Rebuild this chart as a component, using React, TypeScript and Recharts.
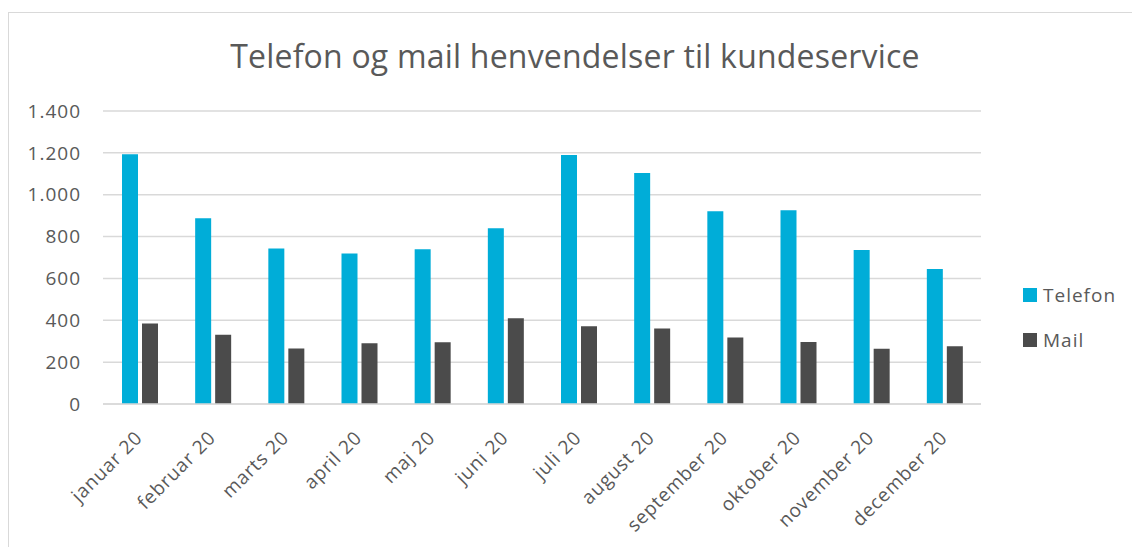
import React from 'react'
import { BarChart, Bar, XAxis, YAxis, CartesianGrid } from 'recharts'

const months = [
  'januar 20', 'februar 20', 'marts 20', 'april 20', 'maj 20', 'juni 20',
  'juli 20', 'august 20', 'september 20', 'oktober 20', 'november 20', 'december 20',
]
const telefon = [1193, 887, 743, 719, 740, 840, 1190, 1104, 921, 926, 736, 645]
const mail = [385, 331, 265, 290, 295, 410, 372, 361, 318, 296, 264, 276]
const yTicks = [0, 200, 400, 600, 800, 1000, 1200, 1400]

const TELEFON_COLOR = '#00ADD8'
const MAIL_COLOR = '#4B4B4B'
const TEXT_COLOR = '#595959'
const FONT = '"Open Sans", sans-serif'

const data = months.map((m, i) => ({ month: m, Telefon: telefon[i], Mail: mail[i] }))

const formatTick = (v: number) => v.toLocaleString('da-DK')

const MonthTick = (props: any) => {
  const { x, y, payload } = props
  return (
    <text
      x={x + 4}
      y={y + 27}
      transform={`rotate(-45, ${x + 4}, ${y + 27})`}
      textAnchor="end"
      fill={TEXT_COLOR}
      fontSize={19}
      letterSpacing={0.8}
      fontFamily={FONT}
    >
      {payload.value}
    </text>
  )
}

const App: React.FC = () => {
  return (
    <div style={{ position: 'absolute', left: 0, top: 0, width: 1132, height: 547, background: '#fff', overflow: 'hidden', fontFamily: FONT }}>
      <div style={{ position: 'absolute', left: 8, top: 12, width: 1200, height: 600, borderLeft: '1px solid #d9d9d9', borderTop: '1px solid #d9d9d9' }} />
      <div style={{ position: 'absolute', left: 0, width: 1150, top: 35, textAlign: 'center', fontSize: 32, letterSpacing: 0.2, color: TEXT_COLOR, lineHeight: '42px' }}>
        Telefon og mail henvendelser til kundeservice
      </div>
      <div style={{ position: 'absolute', left: 0, top: 0 }}>
        <BarChart
          width={1132}
          height={547}
          data={data}
          margin={{ top: 111, right: 151, left: 0, bottom: 43 }}
          barSize={16}
          barGap={4}
        >
          <CartesianGrid vertical={false} stroke="#d9d9d9" strokeWidth={1.5} />
          <XAxis
            dataKey="month"
            height={100}
            interval={0}
            tickLine={false}
            axisLine={{ stroke: '#d9d9d9', strokeWidth: 1.5 }}
            tick={<MonthTick />}
          />
          <YAxis
            width={103}
            domain={[0, 1400]}
            ticks={yTicks}
            tickFormatter={formatTick}
            axisLine={false}
            tickLine={false}
            tickSize={0}
            tickMargin={22}
            tick={{ fill: TEXT_COLOR, fontSize: 19, fontFamily: FONT, letterSpacing: 1 }}
          />
          <Bar dataKey="Telefon" fill={TELEFON_COLOR} isAnimationActive={false} />
          <Bar dataKey="Mail" fill={MAIL_COLOR} isAnimationActive={false} />
        </BarChart>
      </div>
      {[
        { name: 'Telefon', color: TELEFON_COLOR, top: 288 },
        { name: 'Mail', color: MAIL_COLOR, top: 333 },
      ].map(item => (
        <div key={item.name} style={{ position: 'absolute', left: 1023, top: item.top, display: 'flex', alignItems: 'center', height: 14 }}>
          <span style={{ width: 14, height: 14, background: item.color, display: 'inline-block' }} />
          <span style={{ marginLeft: 6, fontSize: 19, letterSpacing: 1, color: TEXT_COLOR, whiteSpace: 'nowrap' }}>{item.name}</span>
        </div>
      ))}
    </div>
  )
}

export default App
